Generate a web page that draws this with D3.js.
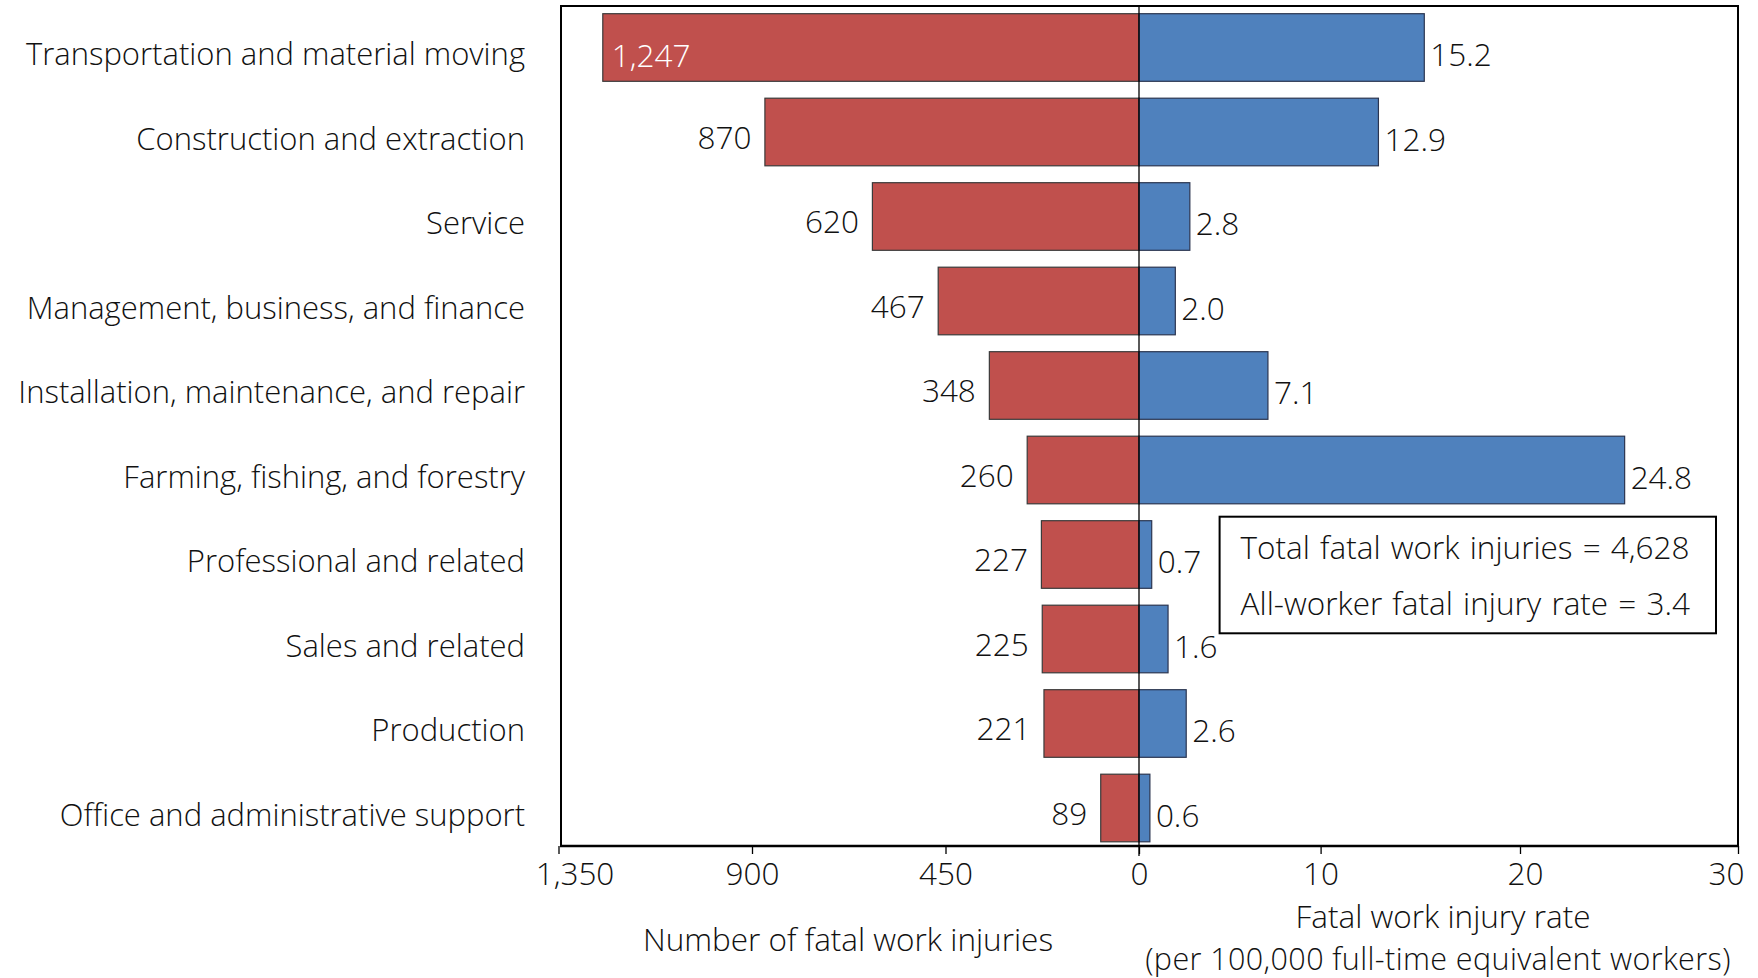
<!DOCTYPE html>
<html>
<head>
<meta charset="utf-8">
<script src="https://cdn.jsdelivr.net/npm/d3@7"></script>
<style>
  html, body { margin: 0; padding: 0; background: #fff; }
  svg { display: block; font-family: "Open Sans", "DejaVu Sans", sans-serif; font-weight: 300; }
</style>
</head>
<body>
<svg id="chart" width="1758" height="978"></svg>
<script>
const categories = [
  "Transportation and material moving",
  "Construction and extraction",
  "Service",
  "Management, business, and finance",
  "Installation, maintenance, and repair",
  "Farming, fishing, and forestry",
  "Professional and related",
  "Sales and related",
  "Production",
  "Office and administrative support"
];
const fatalInjuries = [1247, 870, 620, 467, 348, 260, 227, 225, 221, 89];
const injuryRates = [15.2, 12.9, 2.8, 2.0, 7.1, 24.8, 0.7, 1.6, 2.6, 0.6];
const leftTicks = [1350, 900, 450, 0];
const rightTicks = [10, 20, 30];
const leftAxisTitle = "Number of fatal work injuries";
const rightAxisTitle = ["Fatal work injury rate", "(per 100,000 full-time equivalent workers)"];
const boxLines = ["Total fatal work injuries = 4,628", "All-worker fatal injury rate = 3.4"];

const rows = categories.map((c, i) => ({ cat: c, n: fatalInjuries[i], r: injuryRates[i] }));

const svg = d3.select("#chart");
const plot = { left: 561, right: 1738, top: 6, bottom: 846 };
const zeroX = 1139;
const FS = 31.5;
const FS_CAT = 31;

const xLeft = d3.scaleLinear().domain([0, 1350]).range([zeroX, 558.5]);
const xRight = d3.scaleLinear().domain([0, 10, 20, 30]).range([zeroX, 1320.6, 1520, plot.right]);
const y = d3.scaleBand().domain(categories).range([5.25, 850.25]).paddingInner(0.2).paddingOuter(0.1);
const fmt = d3.format(",");

// frame
svg.append("rect")
  .attr("x", plot.left).attr("y", plot.top)
  .attr("width", plot.right - plot.left).attr("height", plot.bottom - plot.top)
  .attr("fill", "none").attr("stroke", "#000").attr("stroke-width", 2);

// bars
svg.append("g").selectAll("rect").data(rows).join("rect")
  .attr("x", d => xLeft(d.n)).attr("y", d => y(d.cat))
  .attr("width", d => zeroX - xLeft(d.n)).attr("height", y.bandwidth())
  .attr("fill", "#C0504D").attr("stroke", "#3a3a3a").attr("stroke-width", 1.2);
svg.append("g").selectAll("rect").data(rows).join("rect")
  .attr("x", zeroX).attr("y", d => y(d.cat))
  .attr("width", d => xRight(d.r) - zeroX).attr("height", y.bandwidth())
  .attr("fill", "#4F81BD").attr("stroke", "#2b3550").attr("stroke-width", 1.2);

// zero line
svg.append("line").attr("x1", zeroX).attr("x2", zeroX).attr("y1", plot.top).attr("y2", plot.bottom + 10)
  .attr("stroke", "#000").attr("stroke-width", 1.3);

// category labels
svg.append("g").selectAll("text").data(rows).join("text")
  .attr("x", 525).attr("y", d => y(d.cat) + y.bandwidth() / 2 + 17.5)
  .attr("text-anchor", "end").attr("font-size", FS_CAT).attr("fill", "#111")
  .text(d => d.cat);

// left value labels
svg.append("g").selectAll("text").data(rows).join("text")
  .attr("x", d => d.n > 1100 ? xLeft(d.n) + 9 : xLeft(d.n) - 13.5)
  .attr("y", d => y(d.cat) + y.bandwidth() / 2 + (d.n > 1100 ? 19 : 16.5))
  .attr("text-anchor", d => d.n > 1100 ? "start" : "end")
  .attr("font-size", FS).attr("fill", d => d.n > 1100 ? "#fff" : "#111")
  .text(d => fmt(d.n));

// right value labels
svg.append("g").selectAll("text").data(rows).join("text")
  .attr("x", d => xRight(d.r) + 6)
  .attr("y", d => y(d.cat) + y.bandwidth() / 2 + 18.7)
  .attr("font-size", FS).attr("fill", "#111")
  .text(d => d3.format(".1f")(d.r));

// axes
const gL = svg.append("g").attr("transform", `translate(0,${plot.bottom})`)
  .call(d3.axisBottom(xLeft).tickValues(leftTicks).tickFormat(fmt).tickSize(8).tickPadding(9));
const gR = svg.append("g").attr("transform", `translate(0,${plot.bottom})`)
  .call(d3.axisBottom(xRight).tickValues(rightTicks).tickFormat(d3.format("d")).tickSize(8).tickPadding(9));
[gL, gR].forEach(g => {
  g.attr("font-family", null).attr("font-size", null);
  g.select(".domain").remove();
  g.selectAll(".tick line").attr("stroke", "#000").attr("stroke-width", 1.3);
  g.selectAll(".tick text").attr("font-size", FS).attr("fill", "#111");
});
gL.selectAll(".tick text").filter(d => d === 1350).attr("dx", 16);
gR.selectAll(".tick text").filter(d => d === 20).attr("dx", 5);
gR.selectAll(".tick text").filter(d => d === 30).attr("dx", -12);
svg.append("line").attr("x1", plot.left - 1).attr("x2", plot.right + 1)
  .attr("y1", plot.bottom).attr("y2", plot.bottom)
  .attr("stroke", "#000").attr("stroke-width", 2.5);

// axis titles
svg.append("text").attr("x", 848).attr("y", 951).attr("text-anchor", "middle")
  .attr("font-size", FS).attr("fill", "#111").text(leftAxisTitle);
svg.append("text").attr("x", 1443).attr("y", 928).attr("text-anchor", "middle")
  .attr("font-size", FS).attr("fill", "#111").text(rightAxisTitle[0]);
svg.append("text").attr("x", 1438).attr("y", 970).attr("text-anchor", "middle")
  .attr("font-size", 30.5).attr("letter-spacing", 0.4).attr("fill", "#111").text(rightAxisTitle[1]);

// annotation box
svg.append("rect").attr("x", 1219.6).attr("y", 516.7).attr("width", 496.4).attr("height", 116.6)
  .attr("fill", "#fff").attr("stroke", "#000").attr("stroke-width", 2);
svg.append("g").selectAll("text").data(boxLines).join("text")
  .attr("x", 1240.6).attr("y", (d, i) => 559 + i * 56)
  .attr("font-size", FS).attr("fill", "#111").attr("word-spacing", 2).text(d => d);
</script>
</body>
</html>
